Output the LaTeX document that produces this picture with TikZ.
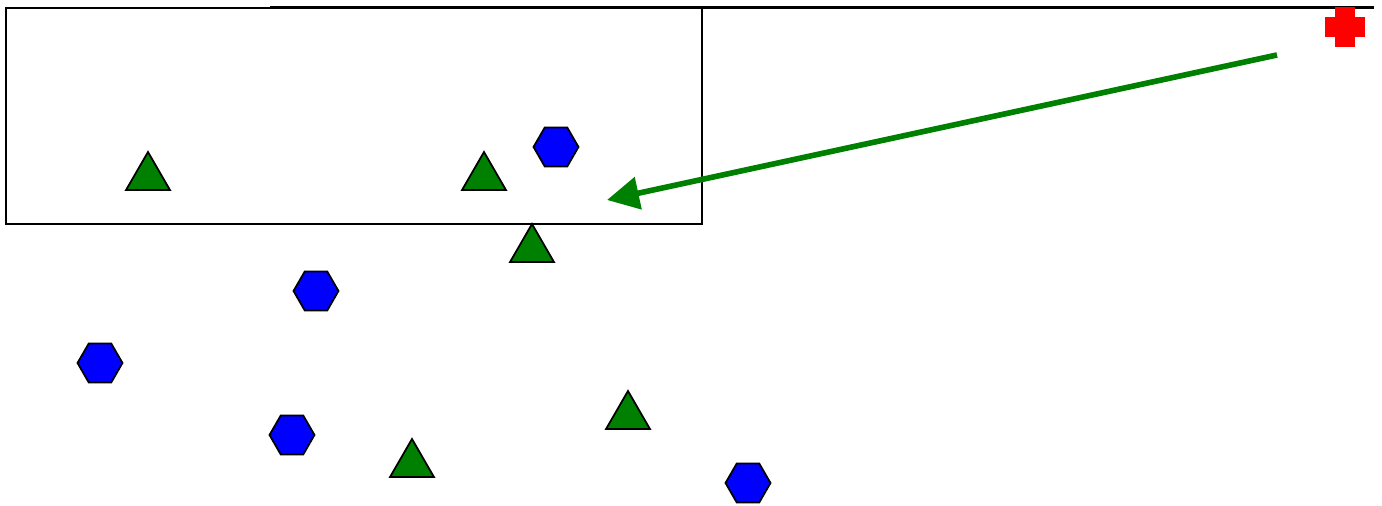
\documentclass[tikz,border=0pt]{standalone}
\usetikzlibrary{shapes.geometric,arrows.meta}
\definecolor{darkgreen}{RGB}{0,128,0}
\begin{document}
\begin{tikzpicture}[
        tri/.style={regular polygon, regular polygon sides=3, draw, line width=0.5pt,
            fill=darkgreen, minimum size=0.508cm, inner sep=0pt, outer sep=0pt},
        hexa/.style={regular polygon, regular polygon sides=6, draw, line width=0.5pt,
            fill=blue, minimum size=0.45cm, inner sep=0pt, outer sep=0pt},
        frame/.style={draw, line width=0.6pt},
        arrow/.style={-{Triangle[length=3.2mm, width=3.2mm]}, line width=1.6pt, draw=darkgreen}
      ]
      \useasboundingbox (0,0) rectangle (13.82,5.06);
      \draw[frame] (0.06,2.82) rectangle (7.02,4.98);
      \draw[line width=0.6pt] (2.70,4.985) -- (13.74,4.985);
      \fill[red] (13.35,4.59) rectangle (13.55,4.99);
      \fill[red] (13.25,4.69) rectangle (13.65,4.89);
      \node[tri] (tri1) at (1.48, 3.286) {};
      \node[tri] (tri2) at (4.84, 3.286) {};
      \node[tri] (tri3) at (5.32, 2.566) {};
      \node[tri] (tri4) at (6.28, 0.896) {};
      \node[tri] (tri5) at (4.12, 0.416) {};
      \node[hexa] (hex1) at (5.56, 3.59) {};
      \node[hexa] (hex2) at (3.16, 2.15) {};
      \node[hexa] (hex3) at (1.00, 1.43) {};
      \node[hexa] (hex4) at (2.92, 0.71) {};
      \node[hexa] (hex5) at (7.48, 0.23) {};
      \coordinate (from) at (12.77, 4.51);
      \coordinate (to) at (6.07, 3.06);
      \draw[arrow] (from) -- (to);
    \end{tikzpicture}
\end{document}
